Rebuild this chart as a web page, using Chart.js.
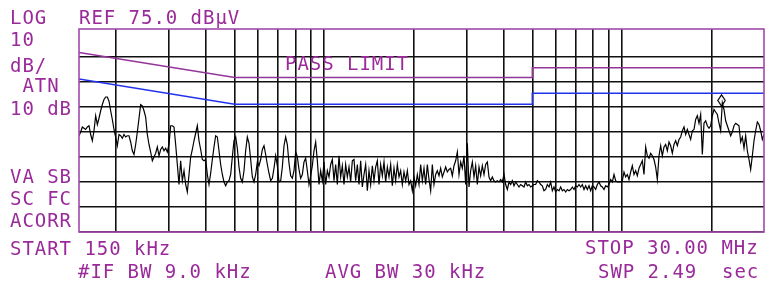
<!DOCTYPE html>
<html>
<head>
<meta charset="utf-8">
<script src="https://cdn.jsdelivr.net/npm/chart.js@4"></script>
<style>
  html, body { margin: 0; padding: 0; background: #fff; }
  canvas { display: block; }
</style>
</head>
<body>
<canvas id="sa" width="766" height="282"></canvas>
<script>
// vertical grid, MHz (log sweep 150 kHz .. 30 MHz)
var gridFreqs = [0.2, 0.3, 0.4, 0.5, 0.6, 0.7, 0.8, 0.9, 1, 2, 3, 4, 5, 6, 7, 8, 9, 10, 20];
// horizontal grid, dBuV (10 dB/div, ref 75)
var gridLevels = [-5, 5, 15, 25, 35, 45, 55, 65];

// limit lines
var limitFreqs = [0.15, 0.5, 5, 5, 30];
var passLevels = [66.8, 56.8, 56.8, 60.7, 60.7];
var avgLevels = [56.2, 46.1, 46.1, 50.5, 50.5];

// marker
var markerFreq = [21.6];
var markerLevel = [47.6];

// trace, 412 points evenly spaced across the sweep
var traceLevels = [
  33.5, 35, 37, 36.5, 36, 37, 37.5, 34, 31.5, 35.5,
  41.5, 38, 40.5, 43.5, 46, 48, 49, 49, 47.3, 43.5,
  40, 36, 33, 29.5, 34, 33.5, 32.5, 34, 33, 33.5,
  33.5, 31, 27.5, 26, 30, 35, 40.5, 46, 45.5, 43.5,
  41, 34, 30, 27, 23.5, 25, 26.5, 29, 25.5, 28,
  29, 27.5, 28.5, 27, 30, 37.5, 37.5, 37, 30, 22,
  14, 23.5, 15.5, 19.5, 14, 11, 18, 25, 28, 31.5,
  34.5, 37.5,
  31.5, 28, 24, 23.5, 24, 18, 14, 18.5, 24, 29,
  33.5, 33, 27.5, 22, 18, 15, 13.5, 15, 15.5, 18,
  25, 31.5, 33, 28.5, 21, 16.5, 15, 19.5, 27.5, 33,
  30.5, 24, 17, 15, 18, 23, 21.5, 24, 28, 29.5,
  26, 22, 18.5, 15.5, 16.5, 20.5, 25.5, 21.5, 15, 15.5,
  21, 29.5, 33, 30, 22.5, 17.5, 16.5, 19.5, 27, 25,
  20, 16.5, 18, 23, 24.5, 19.5, 14, 17.5, 21.5,
  27.5, 31, 23.5, 14, 19.5, 15.5, 23, 14, 19.5, 17,
  22, 24, 15.5, 22, 14, 25.5, 17, 21.5, 14, 22,
  17, 21, 15, 23.5, 24, 15.5, 22, 14, 23.5, 13,
  18, 22, 11.5, 19.5, 14, 21.5, 15.5, 21, 23.5, 14,
  22, 17.5, 23, 15, 21, 17, 22, 13.5, 20.5, 15.5,
  22, 17, 19.5, 14, 19, 15.5, 19.5, 14, 15.5, 11.5,
  17, 13.5, 18, 14, 22, 15.5, 20.5, 14, 22, 16,
  11.5, 22, 14, 18, 19.5, 17.5, 20.5, 17, 19, 21,
  19, 20, 20.5, 17.5, 21.5, 23.5, 27, 18, 23, 20.5,
  25.5, 14, 30.5, 13, 19.5, 23, 17, 21.5, 14, 21,
  17.5, 21.5, 18, 22, 23, 17, 15.5, 17, 15.5, 15,
  15.5, 15, 16, 15, 18, 14, 12, 15, 14, 15.5,
  13.5, 15, 14, 13, 14, 13.5, 13, 15, 13.5, 14,
  13, 13.5, 14, 14, 15.5, 15, 14, 13.5, 11.5,
  12, 14, 13, 15, 11.5, 13, 11, 12, 11.5, 13,
  11.5, 12, 11, 12, 11.5, 12, 13, 12, 13.5, 13,
  14, 13, 14, 12, 13.5, 12, 13.5, 11.5, 13.5, 13,
  12, 14, 15, 13.5, 13, 12, 13.5, 13, 14, 16,
  15, 18, 15.5, 15, 15, 15, 15.5, 19, 17, 18,
  16, 19, 21.5, 18, 19.5, 17.5, 20.5, 22, 23.5, 18,
  29, 25.5, 24.5, 26.5, 25.5, 24, 21, 16, 25.5, 29.5,
  25.5, 29, 30, 27.5, 31, 29.5, 26.5, 30, 31.5, 29.5,
  32, 33, 35.5, 37, 34, 36, 34, 32, 35.5, 36,
  40, 41.5, 38.5, 42, 26, 38.5, 39.5, 37.5, 36.5, 37.5,
  41.5, 44, 43, 42, 38.5, 35.5, 46.7, 44, 39.5, 37.5,
  35.5, 33.5, 35, 37.5, 38.5, 38, 37.5, 31, 33, 28.5,
  33.5, 27.5, 24, 20, 25.5, 31.5, 35.5, 39, 38, 35.5,
  32, 34
];

var TXT = '#9a2a9a';
var PITCH = 12.4;

// little elongated diamond for the marker
var diamond = document.createElement('canvas');
diamond.width = 9; diamond.height = 13;
var dc = diamond.getContext('2d');
dc.beginPath();
dc.moveTo(4.5, 0.8); dc.lineTo(8.2, 6.5); dc.lineTo(4.5, 12.2); dc.lineTo(0.8, 6.5);
dc.closePath();
dc.fillStyle = '#fff'; dc.fill();
dc.strokeStyle = '#000'; dc.lineWidth = 1.2; dc.stroke();

function mono(ctx, s, x, y) {
  for (var i = 0; i < s.length; i++) ctx.fillText(s[i], x + i * PITCH, y);
}

var annotate = {
  id: 'annotate',
  beforeDatasetsDraw: function (chart) {
    var ctx = chart.ctx;
    ctx.save();
    ctx.fillStyle = TXT;
    ctx.font = '19px "DejaVu Sans Mono"';
    mono(ctx, 'PASS LIMIT', 285, 70);
    ctx.restore();
  },
  afterDraw: function (chart) {
    var ctx = chart.ctx, a = chart.chartArea;
    ctx.save();
    ctx.strokeStyle = '#a04aaa';
    ctx.lineWidth = 1.6;
    ctx.strokeRect(a.left, a.top, a.right - a.left, a.bottom - a.top);
    ctx.fillStyle = TXT;
    ctx.font = '19px "DejaVu Sans Mono"';
    mono(ctx, 'LOG', 10, 24);
    mono(ctx, 'REF 75.0 dB\u00b5V', 79, 24);
    mono(ctx, '10', 10, 46);
    mono(ctx, 'dB/', 10, 71.5);
    mono(ctx, ' ATN', 10, 92);
    mono(ctx, '10 dB', 10, 115);
    mono(ctx, 'VA SB', 10, 182.5);
    mono(ctx, 'SC FC', 10, 205);
    mono(ctx, 'ACORR', 10, 226.5);
    mono(ctx, 'START 150 kHz', 10, 255);
    mono(ctx, 'STOP 30.00 MHz', 585, 254);
    mono(ctx, '#IF BW 9.0 kHz', 78, 278);
    mono(ctx, 'AVG BW 30 kHz', 325, 278);
    mono(ctx, 'SWP 2.49  sec', 598, 278);
    ctx.restore();
  }
};

var ctx = document.getElementById('sa');
var chart = new Chart(ctx, {
  type: 'line',
  data: {
    datasets: [
      {
        data: traceLevels.map(function (v, i) { return { x: i, y: v }; }),
        xAxisID: 'xi',
        borderColor: '#000',
        borderWidth: 1.2,
        pointRadius: 0,
        tension: 0
      },
      {
        type: 'scatter',
        data: markerFreq.map(function (f, i) { return { x: f, y: markerLevel[i] }; }),
        xAxisID: 'x',
        pointStyle: diamond,
        pointRadius: 5,
        showLine: false
      },
      {
        data: limitFreqs.map(function (f, i) { return { x: f, y: passLevels[i] }; }),
        xAxisID: 'x',
        borderColor: '#94359a',
        borderWidth: 1.6,
        pointRadius: 0
      },
      {
        data: limitFreqs.map(function (f, i) { return { x: f, y: avgLevels[i] }; }),
        xAxisID: 'x',
        borderColor: '#2233ee',
        borderWidth: 1.6,
        pointRadius: 0
      }
    ]
  },
  options: {
    responsive: false,
    animation: false,
    devicePixelRatio: 1,
    layout: { autoPadding: false, padding: { left: 79, top: 29, right: 2, bottom: 50 } },
    plugins: { legend: { display: false }, tooltip: { enabled: false } },
    scales: {
      x: {
        type: 'logarithmic',
        min: 0.15,
        max: 30,
        afterBuildTicks: function (s) { s.ticks = gridFreqs.map(function (v) { return { value: v }; }); },
        afterFit: function (s) { s.height = 0; },
        ticks: { display: false },
        grid: { color: '#111', lineWidth: 1.6, drawTicks: false },
        border: { display: false }
      },
      xi: {
        type: 'linear',
        min: 0,
        max: traceLevels.length - 1,
        display: false
      },
      y: {
        min: -5,
        max: 76.2,
        afterBuildTicks: function (s) { s.ticks = gridLevels.map(function (v) { return { value: v }; }); },
        afterFit: function (s) { s.width = 0; },
        ticks: { display: false },
        grid: { color: '#111', lineWidth: 1.6, drawTicks: false },
        border: { display: false }
      }
    }
  },
  plugins: [annotate]
});
</script>
</body>
</html>
